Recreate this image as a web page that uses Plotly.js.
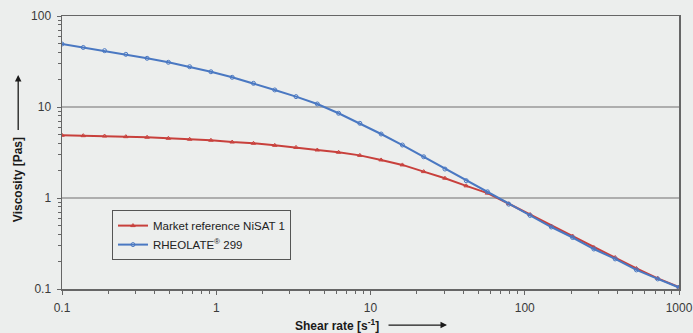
<!DOCTYPE html>
<html>
<head>
<meta charset="utf-8">
<script src="https://cdn.plot.ly/plotly-3.0.1.min.js"></script>
<style>html,body{margin:0;padding:0;background:#eceeed;}#chart{width:693px;height:333px;}</style>
</head>
<body>
<div id="chart"></div>
<script>
const shearRate = [0.1, 0.1374, 0.1888, 0.2593, 0.3562, 0.4894, 0.6723, 0.9237, 1.269, 1.743,
  2.395, 3.290, 4.520, 6.210, 8.532, 11.72, 16.10, 22.12, 30.39, 41.75,
  57.36, 78.80, 108.3, 148.7, 204.3, 280.7, 385.7, 529.8, 727.9, 1000];
const viscosityNisat = [4.89, 4.84, 4.80, 4.72, 4.65, 4.53, 4.42, 4.31, 4.12, 3.99,
  3.79, 3.60, 3.37, 3.18, 2.94, 2.62, 2.31, 1.95, 1.65, 1.36,
  1.13, 0.865, 0.659, 0.492, 0.382, 0.286, 0.222, 0.168, 0.131, 0.105];
const viscosityRheolate = [49.2, 45.1, 41.6, 37.9, 34.3, 31.0, 27.7, 24.4, 21.2, 18.2,
  15.4, 13.0, 10.8, 8.53, 6.62, 5.05, 3.82, 2.84, 2.08, 1.55,
  1.17, 0.855, 0.643, 0.480, 0.368, 0.275, 0.214, 0.162, 0.129, 0.104];
const seriesNames = ['Market reference NiSAT 1', 'RHEOLATE<sup>®</sup> 299'];
const xTicks = [0.1, 1, 10, 100, 1000];
const xTickText = ['0.1', '1', '10', '100', '1000'];
const yTicks = [0.1, 1, 10, 100];
const yTickText = ['0.1', '1', '10', '100'];

const font = 'Liberation Sans, Arial, sans-serif';
const data = [
  {x: shearRate, y: viscosityNisat, name: seriesNames[0], type: 'scatter', mode: 'lines+markers',
   line: {color: '#c8403c', width: 2}, marker: {symbol: 'triangle-up-open', size: 4, color: '#c8403c', line: {width: 1}}},
  {x: shearRate, y: viscosityRheolate, name: seriesNames[1], type: 'scatter', mode: 'lines+markers',
   line: {color: '#4a78c2', width: 2}, marker: {symbol: 'circle-open', size: 4, color: '#4a78c2', line: {width: 1}}}
];
const axisCommon = {
  type: 'log', showline: true, linecolor: '#666', linewidth: 1.5, mirror: true,
  ticks: 'outside', ticklen: 4, tickcolor: '#666', tickwidth: 1,
  tickfont: {family: font, size: 12, color: '#3a3a3a'}, zeroline: false,
  minor: {dtick: 'D1', ticks: 'outside', ticklen: 3, tickcolor: '#666', tickwidth: 1, showgrid: false}
};
const layout = {
  width: 693, height: 333,
  margin: {l: 62, r: 14, t: 16, b: 44},
  paper_bgcolor: '#eceeed', plot_bgcolor: '#eceeed',
  showlegend: true,
  legend: {x: 0.081, y: 0.289, xanchor: 'left', yanchor: 'top', bgcolor: '#eceeed',
    bordercolor: '#555', borderwidth: 1, font: {family: font, size: 11.5, color: '#222'},
    tracegroupgap: 4, itemwidth: 30},
  xaxis: Object.assign({}, axisCommon, {range: [-1, 3], tickvals: xTicks, ticktext: xTickText, showgrid: false,
    ticklabelstandoff: 3}),
  yaxis: Object.assign({}, axisCommon, {range: [-1, 2], tickvals: yTicks, ticktext: yTickText,
    showgrid: true, gridcolor: '#aeaeae', gridwidth: 1.5, ticklabelstandoff: 3}),
  annotations: [
    {xref: 'paper', yref: 'paper', x: 0.624, y: -0.132, text: '<b>Shear rate [s<sup>-1</sup>]</b>',
     showarrow: true, ax: -110, ay: 0, arrowhead: 2, arrowsize: 1, arrowwidth: 1.3, arrowcolor: '#1a1a1a',
     font: {family: font, size: 12, color: '#1a1a1a'}, startstandoff: 8},
    {xref: 'paper', yref: 'paper', x: -0.071, y: 0.784, text: '<b>Viscosity [Pas]</b>', textangle: -90,
     showarrow: true, ax: 0, ay: 105, arrowhead: 2, arrowsize: 1, arrowwidth: 1.3, arrowcolor: '#1a1a1a',
     font: {family: font, size: 12, color: '#1a1a1a'}, startstandoff: 6}
  ]
};
Plotly.newPlot('chart', data, layout, {displayModeBar: false, staticPlot: true});
</script>
</body>
</html>
